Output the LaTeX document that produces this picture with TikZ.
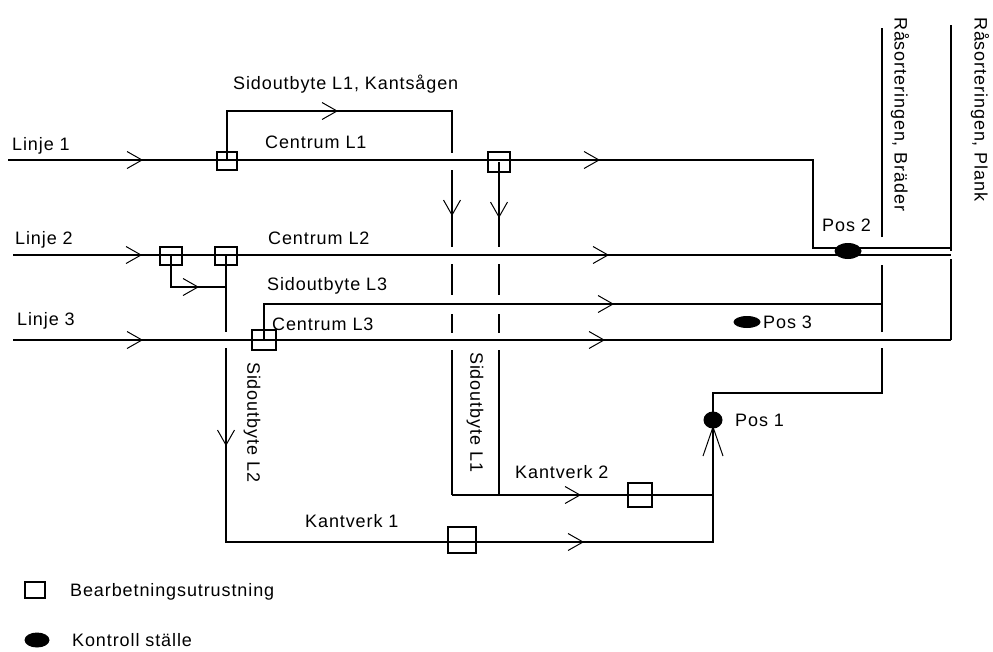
\documentclass[tikz,border=0pt]{standalone}
\usepackage{fontspec}
\setmainfont{Liberation Sans}[LetterSpace=5]
\usetikzlibrary{shapes.geometric}
\tikzset{
  ln/.style={line width=1.1pt},
  lbl/.style={inner sep=0pt, anchor=west, font=\fontsize{18}{21}\selectfont},
  vlbl/.style={lbl, rotate=-90},
  equip/.style={draw, line width=1.1pt, inner sep=0pt, fill=none},
  ctrl/.style={ellipse, fill=black, inner sep=0pt},
  chev/.pic={\draw[line width=1pt] (-15,-8.5) -- (0,0) -- (-15,8.5);},
  chevlong/.pic={\draw[line width=1pt] (-29,-10) -- (0,0) -- (-29,10);}
}
\begin{document}
\begin{tikzpicture}[x=1pt,y=-1pt]
\useasboundingbox (0,0) rectangle (993,651);
% main line coordinates
\coordinate (l1s) at (8,160);
\coordinate (l1c) at (813,160);
\coordinate (p2c) at (813,248);
\coordinate (p2e) at (951,248);
\coordinate (l2s) at (13,255);
\coordinate (l2e) at (951,255);
\coordinate (l3s) at (13,340);
\coordinate (l3e) at (951,340);
% equipment boxes
\node[equip, minimum width=20pt, minimum height=18pt] (b1) at (227,161) {};
\node[equip, minimum width=22pt, minimum height=20pt] (b2) at (499,162) {};
\node[equip, minimum width=22pt, minimum height=18pt] (b3) at (171,256) {};
\node[equip, minimum width=22pt, minimum height=18pt] (b4) at (226,256) {};
\node[equip, minimum width=24pt, minimum height=20pt] (b5) at (264,340) {};
\node[equip, minimum width=24pt, minimum height=24pt] (b6) at (640,495) {};
\node[equip, minimum width=28pt, minimum height=26pt] (b7) at (462,540) {};
% control points
\node[ctrl, minimum width=27pt, minimum height=16pt] (pos2) at (848,251) {};
\node[ctrl, minimum width=27pt, minimum height=12pt] (pos3) at (747,322) {};
\node[ctrl, minimum width=19pt, minimum height=17pt] (pos1) at (713,420) {};
% main lines
\draw[ln] (l1s) -- (l1c) -- (p2c) -- (p2e);
\draw[ln] (l2s) -- (l2e);
\draw[ln] (l3s) -- (l3e);
% Sidoutbyte L3
\coordinate (s3c) at (264,304);
\coordinate (s3e) at (882,304);
\draw[ln] (b5.center) -- (s3c) -- (s3e);
% Sidoutbyte L1 top loop and dashed verticals
\coordinate (t1) at (227,111);
\coordinate (t2) at (452,111);
\coordinate (t3) at (452,153);
\draw[ln] (b1.center) -- (t1) -- (t2) -- (t3);
\coordinate (a1) at (452,170); \coordinate (a2) at (452,247);
\coordinate (a3) at (452,264); \coordinate (a4) at (452,295);
\coordinate (a5) at (452,314); \coordinate (a6) at (452,333);
\coordinate (a7) at (452,350); \coordinate (a8) at (452,495);
\draw[ln] (a1) -- (a2);
\draw[ln] (a3) -- (a4);
\draw[ln] (a5) -- (a6);
\draw[ln] (a7) -- (a8);
\coordinate (c2) at (499,247);
\coordinate (c3) at (499,264); \coordinate (c4) at (499,295);
\coordinate (c5) at (499,314); \coordinate (c6) at (499,333);
\coordinate (c7) at (499,350); \coordinate (c8) at (499,495);
\draw[ln] (b2.center) -- (c2);
\draw[ln] (c3) -- (c4);
\draw[ln] (c5) -- (c6);
\draw[ln] (c7) -- (c8);
% Kantverk 2
\coordinate (k2e) at (713,495);
\draw[ln] (a8) -- (k2e);
% Sidoutbyte L2 / Kantverk 1 and on to Pos 1
\coordinate (d0) at (171,287);
\coordinate (d1) at (226,287);
\coordinate (e1) at (226,332);
\coordinate (e2) at (226,348);
\coordinate (k1c) at (226,542);
\coordinate (k1e) at (713,542);
\coordinate (q1) at (713,393);
\coordinate (q2) at (882,393);
\coordinate (q3) at (882,348);
\draw[ln] (b3.center) -- (d0) -- (d1);
\draw[ln] (b4.center) -- (e1);
\draw[ln] (e2) -- (k1c) -- (k1e) -- (q1) -- (q2) -- (q3);
% Rasorteringen, Brader line
\coordinate (r1) at (882,332);
\coordinate (r2) at (882,265);
\coordinate (r3) at (882,237);
\coordinate (r4) at (882,28);
\draw[ln] (r1) -- (r2);
\draw[ln] (r3) -- (r4);
% Rasorteringen, Plank line
\coordinate (pk1) at (951,25);
\coordinate (pk2) at (951,251);
\coordinate (pk3) at (951,259);
\draw[ln] (pk1) -- (pk2);
\draw[ln] (pk3) -- (l3e);
% arrows
\pic at (142,160) {chev};
\pic at (337,111) {chev};
\pic at (599,160) {chev};
\pic at (141,255) {chev};
\pic at (198,287) {chev};
\pic at (608,255) {chev};
\pic at (613,304) {chev};
\pic at (142,340) {chev};
\pic at (604,340) {chev};
\pic[rotate=-90] at (452,215) {chev};
\pic[rotate=-90] at (499,217) {chev};
\pic[rotate=-90] at (226,445) {chev};
\pic at (580,495) {chev};
\pic at (583,542) {chev};
\pic[rotate=90] at (713,427) {chevlong};
% labels
\node[lbl] (tk) at (233,84) {Sidoutbyte L1, Kantsågen};
\node[lbl] (tl1) at (12,146) {Linje 1};
\node[lbl] (tc1) at (265,142) {Centrum L1};
\node[lbl] (tl2) at (15,240) {Linje 2};
\node[lbl] (tc2) at (268,238) {Centrum L2};
\node[lbl] (ts3) at (267,286) {Sidoutbyte L3};
\node[lbl] (tl3) at (17,321) {Linje 3};
\node[lbl] (tc3) at (272,324) {Centrum L3};
\node[lbl] (tk1) at (305,521) {Kantverk 1};
\node[lbl] (tk2) at (515,472) {Kantverk 2};
\node[lbl] (tp1) at (735,420) {Pos 1};
\node[lbl] (tp2) at (822,225) {Pos 2};
\node[lbl] (tp3) at (763,322) {Pos 3};
\node[vlbl] (ts2) at (252,362) {Sidoutbyte L2};
\node[vlbl] (ts1) at (475,352) {Sidoutbyte L1};
\node[vlbl] (trb) at (900,17) {Råsorteringen, Bräder};
\node[vlbl] (trp) at (980,17) {Råsorteringen, Plank};
% legend
\node[equip, minimum width=20pt, minimum height=16pt] (lb) at (35,590) {};
\node[lbl] (lbt) at (70,592) {Bearbetningsutrustning};
\node[ctrl, minimum width=25pt, minimum height=15pt] (lc) at (37,640) {};
\node[lbl] (lct) at (72,640) {Kontroll ställe};
\end{tikzpicture}
\end{document}
